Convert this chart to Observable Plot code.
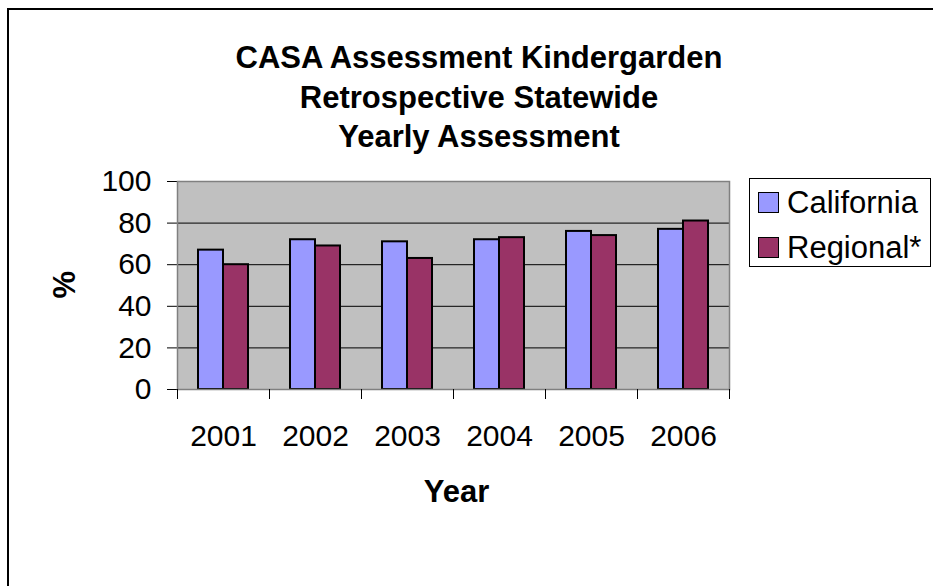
<!DOCTYPE html>
<html>
<head>
<meta charset="utf-8">
<script src="https://cdn.jsdelivr.net/npm/d3@7"></script>
<script src="https://cdn.jsdelivr.net/npm/@observablehq/plot@0.6"></script>
<style>
  html, body { margin: 0; padding: 0; background: #fff; overflow: hidden; }
  #chart {
    position: relative; width: 933px; height: 586px; overflow: hidden;
    font-family: "Liberation Sans", Arial, sans-serif; color: #000;
  }
  #chart svg { position: absolute; left: 0; top: 0; max-width: none; }
  .edge { position: absolute; background: #000; }
  #edge-top { left: 7px; top: 8px; width: 926px; height: 1.5px; }
  #edge-left { left: 7px; top: 8px; width: 1.5px; height: 578px; }
  #title {
    position: absolute; left: 7px; top: 38px; width: 944px;
    text-align: center; font-weight: bold; font-size: 31px; line-height: 39.5px;
  }
  #legend {
    position: absolute; left: 749px; top: 178px; width: 182px; height: 89px;
    border: 1px solid #000; box-sizing: border-box; padding-top: 1px;
  }
  .row { display: flex; align-items: center; height: 45px; font-size: 31px; line-height: 45px; white-space: nowrap; }
  .sw { width: 19px; height: 19px; border: 1.5px solid #000; margin-left: 8px; margin-right: 8px; }
</style>
</head>
<body>
<div id="chart"></div>
<script>
// Kindergarten CASA assessment, percent by year
const years = ["2001", "2002", "2003", "2004", "2005", "2006"];
const series = ["California", "Regional*"];
const california = [67, 72, 71, 72, 76, 77];
const regional = [60, 69, 63, 73, 74, 81];
const colors = ["#9999FF", "#993366"];
const yTicks = [0, 20, 40, 60, 80, 100];
const titleLines = ["CASA Assessment Kindergarden", "Retrospective Statewide", "Yearly Assessment"];
const xTitle = "Year";
const yTitle = "%";

const rows = years.flatMap((year, i) => [
  {year, series: series[0], value: california[i]},
  {year, series: series[1], value: regional[i]}
]);

const W = 933, H = 586;
const margin = {top: 181, right: 204, bottom: 197, left: 176};
const innerH = H - margin.top - margin.bottom;

const plot = Plot.plot({
  width: W,
  height: H,
  marginTop: margin.top,
  marginRight: margin.right,
  marginBottom: margin.bottom,
  marginLeft: margin.left,
  style: {
    background: "transparent",
    fontFamily: "'Liberation Sans', Arial, sans-serif",
    fontSize: "30px",
    color: "#000"
  },
  fx: {domain: years, padding: 0, label: null, tickSize: 0, tickPadding: 35},
  x: {domain: series, axis: null, paddingInner: 0, paddingOuter: 0.77},
  y: {domain: [0, 100], ticks: yTicks, label: null, tickSize: 10, tickPadding: 16},
  color: {domain: series, range: colors},
  marks: [
    // plot area background
    Plot.frame({facet: "super", fill: "#C0C0C0"}),
    Plot.gridY(yTicks, {stroke: "#000", strokeOpacity: 1, strokeWidth: 1}),
    Plot.barY(rows, {
      fx: "year", x: "series", y: "value", fill: "series",
      stroke: "#000", strokeWidth: 2
    }),
    // plot area border and axis lines
    Plot.frame({facet: "super", stroke: "#808080", strokeWidth: 1.5}),
    // category separator ticks below the x axis
    Plot.frame({anchor: "left", stroke: "#000", strokeWidth: 1, insetTop: innerH, insetBottom: -9}),
    Plot.frame({facet: "super", anchor: "right", stroke: "#000", strokeWidth: 1, insetTop: innerH, insetBottom: -9}),
    // axis titles
    Plot.text([yTitle], {
      facet: "super", frameAnchor: "left", dx: -112, dy: 13, rotate: -90,
      fontSize: 31, fontWeight: "bold"
    }),
    Plot.text([xTitle], {
      facet: "super", frameAnchor: "bottom", dy: 112, dx: 3,
      fontSize: 31, fontWeight: "bold"
    })
  ]
});

const chart = document.getElementById("chart");
chart.appendChild(plot);

for (const id of ["edge-top", "edge-left"]) {
  const e = document.createElement("div");
  e.id = id;
  e.className = "edge";
  chart.appendChild(e);
}

const title = document.createElement("div");
title.id = "title";
title.innerHTML = titleLines.join("<br>");
chart.appendChild(title);

const legend = document.createElement("div");
legend.id = "legend";
series.forEach((s, i) => {
  const row = document.createElement("div");
  row.className = "row";
  const sw = document.createElement("span");
  sw.className = "sw";
  sw.style.background = colors[i];
  const label = document.createElement("span");
  label.textContent = s;
  row.appendChild(sw);
  row.appendChild(label);
  legend.appendChild(row);
});
chart.appendChild(legend);
</script>
</body>
</html>
